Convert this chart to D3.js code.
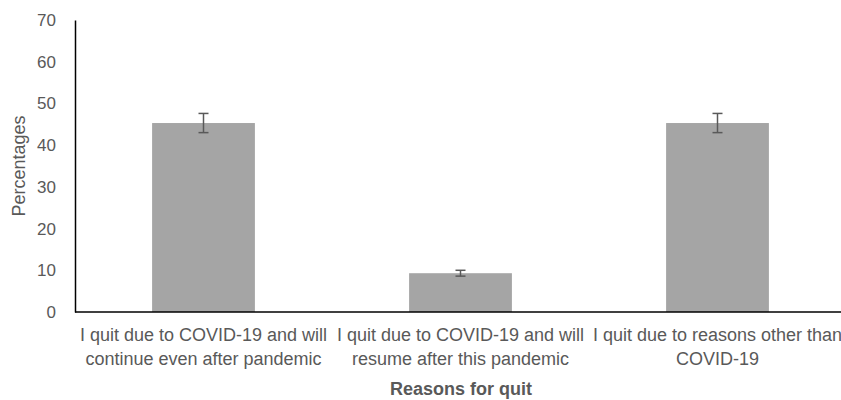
<!DOCTYPE html>
<html>
<head>
<meta charset="utf-8">
<script src="https://cdn.jsdelivr.net/npm/d3@7"></script>
<style>
  body { margin: 0; background: #fff; }
  text { font-family: "Liberation Sans", sans-serif; fill: #595959; }
</style>
</head>
<body>
<div class="chart"></div>
<script>
// data
const categories = [
  ["I quit due to COVID-19 and will", "continue even after pandemic"],
  ["I quit due to COVID-19 and will", "resume after this pandemic"],
  ["I quit due to reasons other than", "COVID-19"]
];
const values = [45.3, 9.3, 45.3];
const errors = [2.3, 0.7, 2.3];
const yTicks = [0, 10, 20, 30, 40, 50, 60, 70];

const width = 841, height = 400;
const margin = { top: 20, right: -5, bottom: 88, left: 75 };

const svg = d3.select(".chart").append("svg")
  .attr("width", width)
  .attr("height", height);

const x = d3.scaleBand()
  .domain(d3.range(values.length))
  .range([margin.left, width - margin.right])
  .paddingInner(0.6)
  .paddingOuter(0.3);

const y = d3.scaleLinear()
  .domain([0, 70])
  .range([height - margin.bottom, margin.top]);

// bars
svg.selectAll("rect.bar")
  .data(values)
  .enter()
  .append("rect")
  .attr("class", "bar")
  .attr("x", (d, i) => x(i))
  .attr("y", d => y(d))
  .attr("width", x.bandwidth())
  .attr("height", d => y(0) - y(d))
  .attr("fill", "#a5a5a5");

// error bars
const eb = svg.selectAll("g.err")
  .data(values)
  .enter()
  .append("g")
  .attr("class", "err")
  .attr("stroke", "#595959")
  .attr("stroke-width", 1.5);
const cx = i => x(i) + x.bandwidth() / 2;
eb.append("line")
  .attr("x1", (d, i) => cx(i)).attr("x2", (d, i) => cx(i))
  .attr("y1", (d, i) => y(d + errors[i])).attr("y2", (d, i) => y(d - errors[i]));
eb.append("line")
  .attr("x1", (d, i) => cx(i) - 5).attr("x2", (d, i) => cx(i) + 5)
  .attr("y1", (d, i) => y(d + errors[i])).attr("y2", (d, i) => y(d + errors[i]));
eb.append("line")
  .attr("x1", (d, i) => cx(i) - 5).attr("x2", (d, i) => cx(i) + 5)
  .attr("y1", (d, i) => y(d - errors[i])).attr("y2", (d, i) => y(d - errors[i]));

// y axis
const yAxis = svg.append("g")
  .attr("transform", `translate(${margin.left},0)`)
  .call(d3.axisLeft(y).tickValues(yTicks).tickSize(0).tickPadding(19));
yAxis.select(".domain").attr("stroke", "#000").attr("stroke-width", 1.5);
yAxis.selectAll("text").style("font-size", "17px").attr("fill", "#595959");

// x axis
svg.append("line")
  .attr("x1", margin.left).attr("x2", width)
  .attr("y1", y(0)).attr("y2", y(0))
  .attr("stroke", "#000").attr("stroke-width", 1.5);

// category labels
const lab = svg.selectAll("text.cat")
  .data(categories)
  .enter()
  .append("text")
  .attr("class", "cat")
  .attr("text-anchor", "middle")
  .style("font-size", "18px");
lab.selectAll("tspan")
  .data((d, i) => d.map(t => ({ t, i })))
  .enter()
  .append("tspan")
  .attr("x", d => cx(d.i))
  .attr("y", (d, j) => y(0) + 29 + j * 24)
  .text(d => d.t);

// axis titles
svg.append("text")
  .attr("transform", `translate(25,${(y(0) + y(70)) / 2}) rotate(-90)`)
  .attr("text-anchor", "middle")
  .style("font-size", "18px")
  .text("Percentages");

svg.append("text")
  .attr("x", 461)
  .attr("y", 395)
  .attr("text-anchor", "middle")
  .style("font-size", "18px")
  .style("font-weight", "bold")
  .text("Reasons for quit");
</script>
</body>
</html>
